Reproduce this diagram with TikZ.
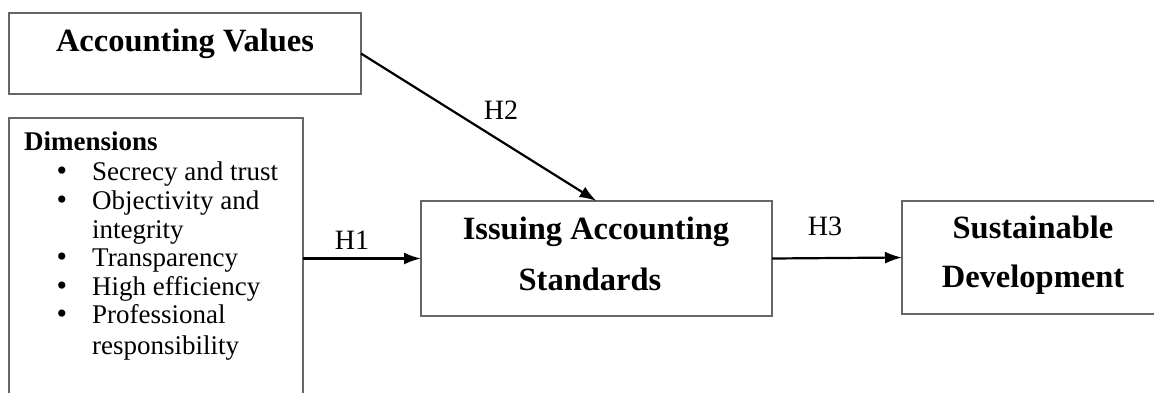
\documentclass[tikz,border=0pt]{standalone}
\usepackage{fontspec}
\setmainfont{Liberation Serif}
\usetikzlibrary{arrows.meta}
\definecolor{boxgray}{gray}{0.40}
\begin{document}
\begin{tikzpicture}[x=1pt,y=-1pt,
  box/.style={draw=boxgray, line width=2pt, inner sep=0pt, outer sep=0pt},
  title/.style={font=\fontsize{32.5}{50}\selectfont\bfseries, inner sep=0pt, anchor=base},
  item/.style={font=\fontsize{27}{29}\selectfont, inner sep=0pt, anchor=base west},
  hlab/.style={font=\fontsize{28}{30}\selectfont, inner sep=0pt},
  conn/.style={line width=2.2pt, -{Latex[length=17pt,width=12pt]}}]
\useasboundingbox (0,0) rectangle (1154,392);
\fill[white] (0,0) rectangle (1154,392);
% boxes
\node[box, minimum width=352pt, minimum height=81pt] (av) at (185,53.5) {};
\node[box, minimum width=294pt, minimum height=300pt] (dim) at (156,268) {};
\node[box, minimum width=351pt, minimum height=115pt] (isb) at (596.5,258.5) {};
\node[box, minimum width=270pt, minimum height=113pt] (sd) at (1037,257.5) {};
% titles
\node[title] (avt) at (185,51) {Accounting Values};
\node[title] (isbt1) at (596,239) {Issuing Accounting};
\node[title] (isbt2) at (590,290) {Standards};
\node[title] (sdt1) at (1033,238) {Sustainable};
\node[title] (sdt2) at (1033,287) {Development};
% dimensions list
\node[item, font=\fontsize{27}{29}\selectfont\bfseries] (dh) at (24,150) {Dimensions};
\foreach \y/\t/\b [count=\i] in {180/Secrecy and trust/1, 209/Objectivity and/1, 238/integrity/0, 266/Transparency/1, 295/High efficiency/1, 323/Professional/1, 354/responsibility/0}{
  \node[item] (it\i) at (92,\y) {\t};
  \ifnum\b=1 \node[item, anchor=base, font=\fontsize{30}{29}\selectfont] (bu\i) at (62,\y) {\textbullet}; \fi
}
% connectors
\draw[conn] (av.east) -- (isb.north);
\draw[conn] (isb.west -| dim.east) -- (isb.west);
\draw[conn] (isb.east) -- (sd.west);
% labels
\node[hlab] (h1) at (352,240) {H1};
\node[hlab] (h2) at (501,110) {H2};
\node[hlab] (h3) at (825,226) {H3};
\end{tikzpicture}
\end{document}
